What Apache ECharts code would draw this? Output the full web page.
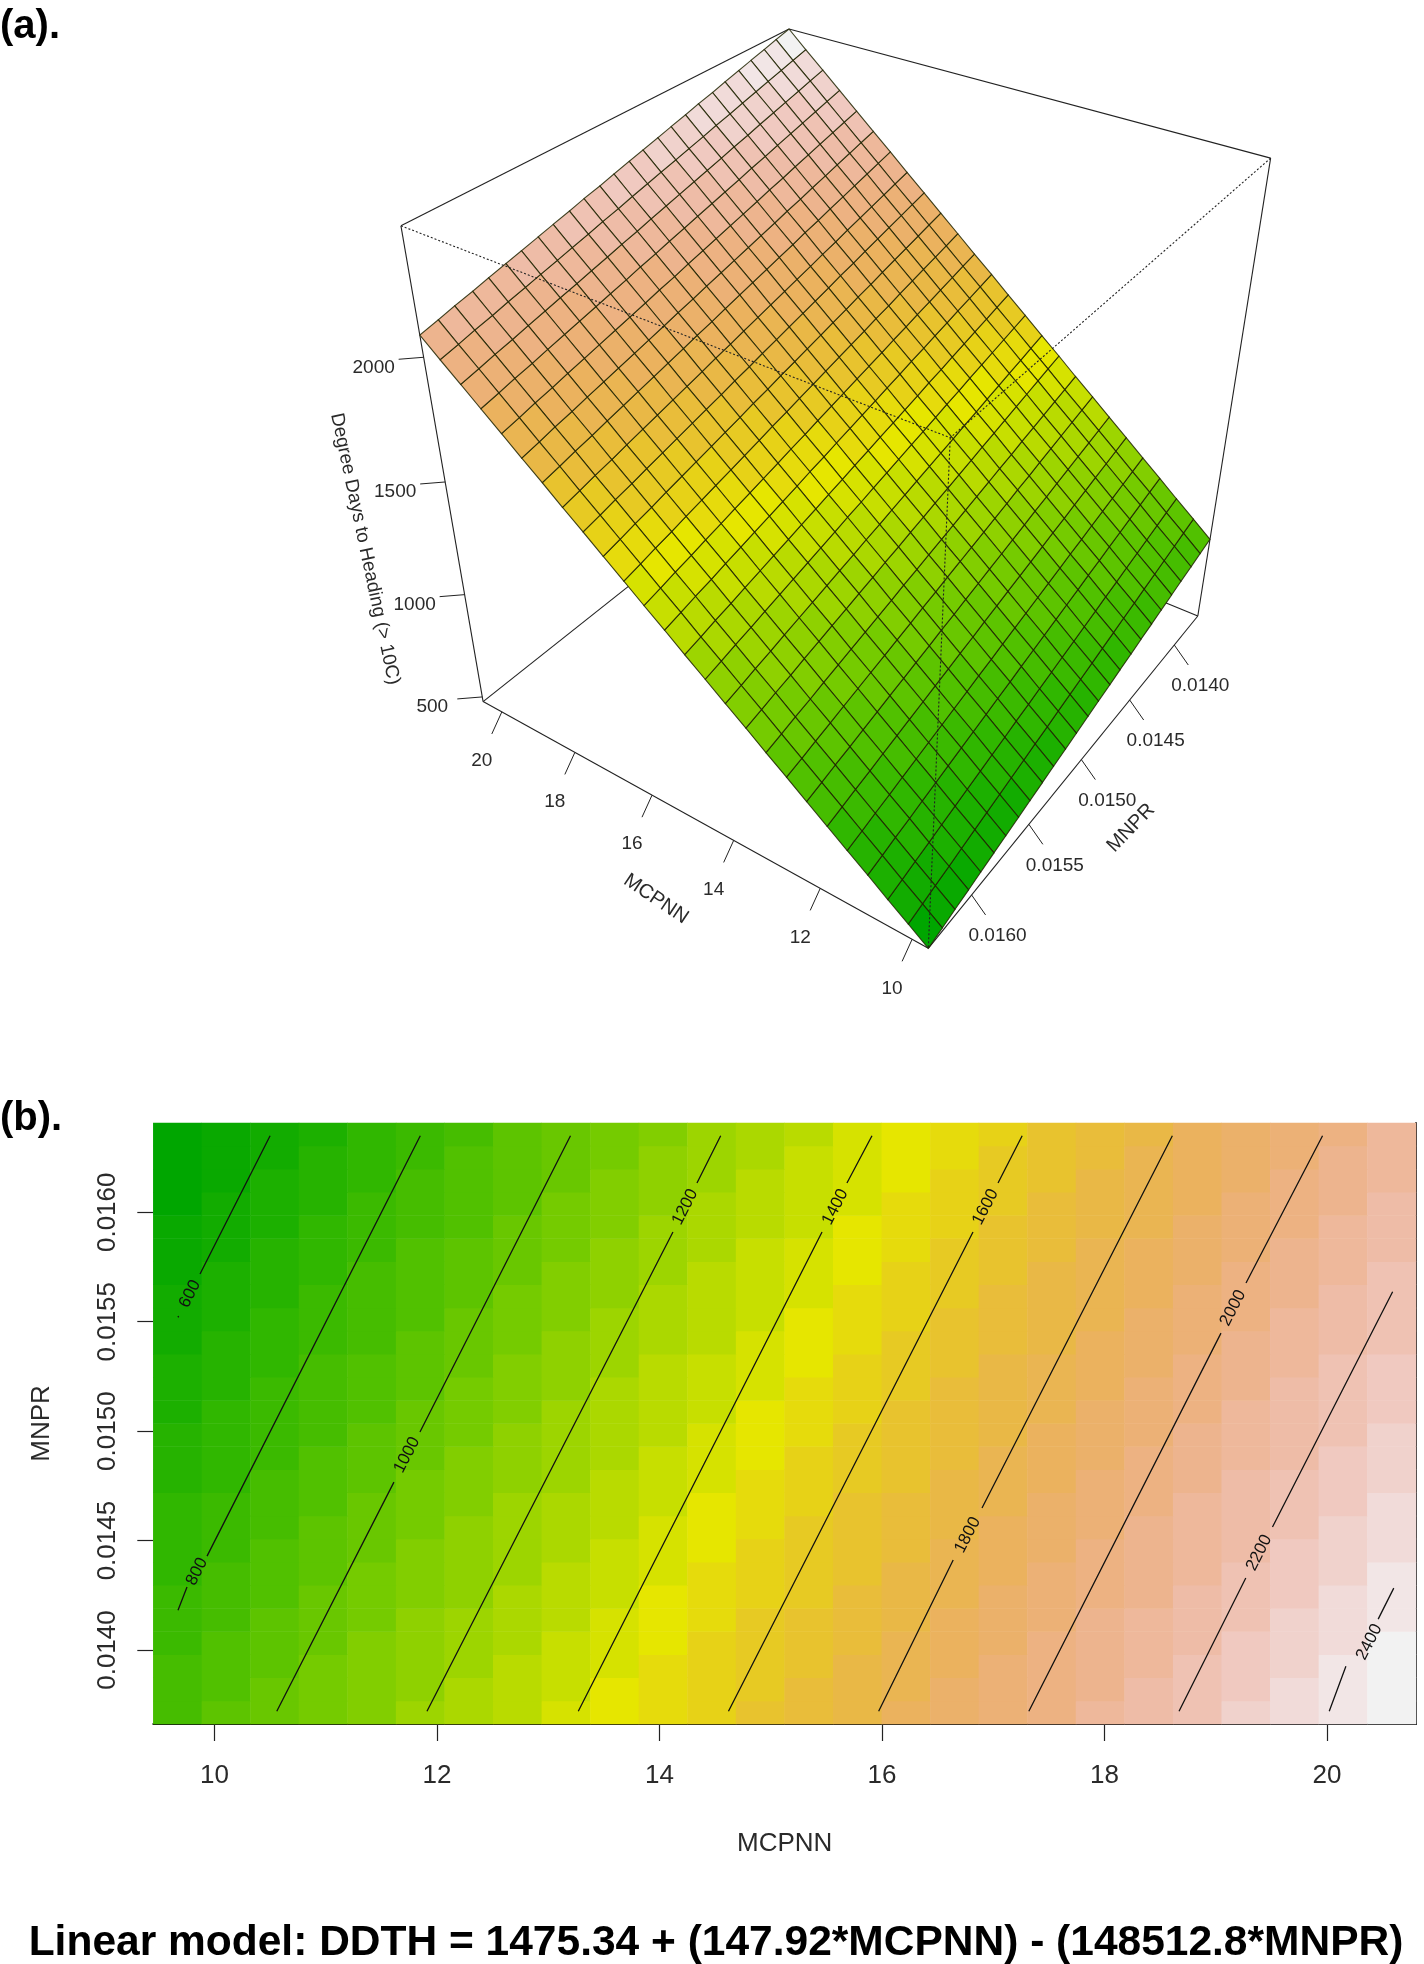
<!DOCTYPE html>
<html>
<head>
<meta charset="utf-8">
<style>html,body{margin:0;padding:0;background:#fff}#c{width:1424px;height:1964px}</style>
<script src="https://cdn.jsdelivr.net/npm/echarts@6/dist/echarts.min.js"></script>
</head>
<body>
<div id="c"></div>
<script>
// ---------- data ----------
const mcpnnValues = [9.66,10.09,10.53,10.96,11.40,11.83,12.27,12.70,13.14,13.57,14.01,14.44,14.88,15.31,15.75,16.18,16.62,17.05,17.49,17.92,18.36,18.79,19.23,19.66,20.10,20.53];
const mnprValues = [0.01372,0.01383,0.01393,0.01404,0.01414,0.01425,0.01435,0.01446,0.01456,0.01467,0.01477,0.01488,0.01498,0.01509,0.01519,0.01530,0.01540,0.01551,0.01561,0.01572,0.01582,0.01593,0.01603,0.01614,0.01624,0.01635];
// one row per MNPR value (low to high), one column per MCPNN value
const ddth = [
[867,931,995,1060,1124,1188,1253,1317,1381,1446,1510,1574,1638,1703,1767,1831,1896,1960,2024,2089,2153,2217,2282,2346,2410,2475],
[851,915,979,1044,1108,1172,1237,1301,1365,1430,1494,1558,1622,1687,1751,1815,1880,1944,2008,2073,2137,2201,2266,2330,2394,2459],
[836,900,964,1029,1093,1157,1222,1286,1350,1415,1479,1543,1607,1672,1736,1800,1865,1929,1993,2058,2122,2186,2251,2315,2379,2444],
[820,884,948,1013,1077,1141,1206,1270,1334,1399,1463,1527,1591,1656,1720,1784,1849,1913,1977,2042,2106,2170,2235,2299,2363,2428],
[805,869,933,998,1062,1126,1191,1255,1319,1384,1448,1512,1576,1641,1705,1769,1834,1898,1962,2027,2091,2155,2220,2284,2348,2413],
[789,853,917,982,1046,1110,1175,1239,1303,1368,1432,1496,1560,1625,1689,1753,1818,1882,1946,2011,2075,2139,2204,2268,2332,2397],
[773,837,901,966,1030,1094,1159,1223,1287,1352,1416,1480,1544,1609,1673,1737,1802,1866,1930,1995,2059,2123,2188,2252,2316,2381],
[758,822,886,951,1015,1079,1144,1208,1272,1337,1401,1465,1529,1594,1658,1722,1787,1851,1915,1980,2044,2108,2173,2237,2301,2366],
[742,806,870,935,999,1063,1128,1192,1256,1321,1385,1449,1513,1578,1642,1706,1771,1835,1899,1964,2028,2092,2157,2221,2285,2350],
[726,790,854,919,983,1047,1112,1176,1240,1305,1369,1433,1497,1562,1626,1690,1755,1819,1883,1948,2012,2076,2141,2205,2269,2334],
[711,775,839,904,968,1032,1097,1161,1225,1290,1354,1418,1482,1547,1611,1675,1740,1804,1868,1933,1997,2061,2126,2190,2254,2319],
[695,759,823,888,952,1016,1081,1145,1209,1274,1338,1402,1466,1531,1595,1659,1724,1788,1852,1917,1981,2045,2110,2174,2238,2303],
[680,744,808,873,937,1001,1066,1130,1194,1259,1323,1387,1451,1516,1580,1644,1709,1773,1837,1902,1966,2030,2095,2159,2223,2288],
[664,728,792,857,921,985,1050,1114,1178,1243,1307,1371,1435,1500,1564,1628,1693,1757,1821,1886,1950,2014,2079,2143,2207,2272],
[648,712,776,841,905,969,1034,1098,1162,1227,1291,1355,1419,1484,1548,1612,1677,1741,1805,1870,1934,1998,2063,2127,2191,2256],
[633,697,761,826,890,954,1019,1083,1147,1212,1276,1340,1404,1469,1533,1597,1662,1726,1790,1855,1919,1983,2048,2112,2176,2241],
[617,681,745,810,874,938,1003,1067,1131,1196,1260,1324,1388,1453,1517,1581,1646,1710,1774,1839,1903,1967,2032,2096,2160,2225],
[601,665,729,794,858,922,987,1051,1115,1180,1244,1308,1372,1437,1501,1565,1630,1694,1758,1823,1887,1951,2016,2080,2144,2209],
[586,650,714,779,843,907,972,1036,1100,1165,1229,1293,1357,1422,1486,1550,1615,1679,1743,1808,1872,1936,2001,2065,2129,2194],
[570,634,698,763,827,891,956,1020,1084,1149,1213,1277,1341,1406,1470,1534,1599,1663,1727,1792,1856,1920,1985,2049,2113,2178],
[555,619,683,748,812,876,941,1005,1069,1134,1198,1262,1326,1391,1455,1519,1584,1648,1712,1777,1841,1905,1970,2034,2098,2163],
[539,603,667,732,796,860,925,989,1053,1118,1182,1246,1310,1375,1439,1503,1568,1632,1696,1761,1825,1889,1954,2018,2082,2147],
[523,587,651,716,780,844,909,973,1037,1102,1166,1230,1294,1359,1423,1487,1552,1616,1680,1745,1809,1873,1938,2002,2066,2131],
[508,572,636,701,765,829,894,958,1022,1087,1151,1215,1279,1344,1408,1472,1537,1601,1665,1730,1794,1858,1923,1987,2051,2116],
[492,556,620,685,749,813,878,942,1006,1071,1135,1199,1263,1328,1392,1456,1521,1585,1649,1714,1778,1842,1907,1971,2035,2100],
[476,540,604,669,733,797,862,926,990,1055,1119,1183,1247,1312,1376,1440,1505,1569,1633,1698,1762,1826,1891,1955,2019,2084]
];
const mcpnnTicks = [10,12,14,16,18,20];
const mnprTicks = [0.014,0.0145,0.015,0.0155,0.016];
const mnprTickLabels = ['0.0140','0.0145','0.0150','0.0155','0.0160'];
const ddthTicks = [500,1000,1500,2000];

const contourLevels = [600,800,1000,1200,1400,1600,1800,2000,2200,2400];
// each contour: runs of [MCPNN, MNPR] on either side of its label
const contourRuns = [
 [[[10.50,0.01635],[9.87,0.015718]],[[9.672,0.015526],[9.678,0.01552]]],
 [[[11.85,0.01635],[9.933,0.014429]],[[9.753,0.014288],[9.672,0.014182]]],
 [[[13.20,0.01635],[11.847,0.014996]],[[11.613,0.014767],[10.56,0.01372]]],
 [[[14.55,0.01635],[14.337,0.016134]],[[14.121,0.01591],[11.91,0.01372]]],
 [[[15.91,0.01635],[15.685,0.016134]],[[15.461,0.01591],[13.27,0.01372]]],
 [[[17.26,0.01635],[17.043,0.016134]],[[16.818,0.01591],[14.62,0.01372]]],
 [[[18.61,0.01635],[16.899,0.014649]],[[16.64,0.014411],[15.97,0.01372]]],
 [[[19.96,0.01635],[19.272,0.015677]],[[19.047,0.015448],[17.32,0.01372]]],
 [[[20.59,0.015637],[19.51,0.014562]],[[19.27,0.014329],[18.67,0.01372]]],
 [[[20.60,0.014283],[20.46,0.014141]],[[20.17,0.013926],[20.02,0.01372]]]
];
const contourLabelAt = [[9.78,0.015627],[9.843,0.014358],[11.73,0.014891],[14.23,0.016024],[15.58,0.016024],[16.93,0.016024],[16.77,0.014525],[19.155,0.015563],[19.39,0.014444],[20.38,0.014036]];

// ---------- styles / layout ----------
const FONT = '"Liberation Sans", Arial, sans-serif';
const INK = '#2a2a2a';
const panelB = {left:153.3, top:1123, width:1262.7, height:601};
const axisB = {xMin:9.45, xMax:20.80, yMin:0.013662, yMax:0.016408};

// terrain.colors(40) ramp
function hsv(h,s,v){const c=v*s,x=c*(1-Math.abs((h/60)%2-1)),m=v-c;let r,g,b;
 if(h<60){r=c;g=x;b=0}else if(h<120){r=x;g=c;b=0}else{r=0;g=c;b=x}
 const f=a=>Math.round((a+m)*255);return 'rgb('+f(r)+','+f(g)+','+f(b)+')';}
function terrain(n){const k=Math.floor(n/2),out=[];
 for(let i=0;i<k;i++){const t=k>1?i/(k-1):0;out.push(hsv(120-60*t,1,0.65+0.25*t));}
 const m=n-k;for(let i=1;i<=m;i++){const t=i/m;out.push(hsv(60-60*t,1-t,0.9+0.05*t));}
 return out;}
const nColors=40, ramp=terrain(nColors);
const zMin=Math.min(...ddth.map(r=>Math.min(...r))), zMax=Math.max(...ddth.map(r=>Math.max(...r)));
const colorOf=z=>ramp[Math.max(0,Math.min(nColors-1,Math.floor((z-zMin)/(zMax-zMin)*nColors)))];
const pieces=ramp.map((c,i)=>({min:zMin+(zMax-zMin)*i/nColors,max:zMin+(zMax-zMin)*(i+1)/nColors,color:c}));

// ---------- perspective camera fitted to landmarks of the drawing ----------
const cube={x0:mcpnnValues[0],x1:mcpnnValues[25],y0:mnprValues[0],y1:mnprValues[25],z0:zMin,z1:zMax};
const norm=(x,y,z)=>[(x-cube.x0)/(cube.x1-cube.x0),(y-cube.y0)/(cube.y1-cube.y0),(z-cube.z0)/(cube.z1-cube.z0)];
const landmarks=[ // unit cube position, page position, weight
 [[1,1,0],[481.5,699.5],1],[[0,1,0],[928.3,948.3],30],[[0,0,0],[1198,615],1],[[1,0,0],[795,452],0.1],
 [[1,1,1],[400.7,226],1],[[0,1,1],[948,435],1],[[0,0,1],[1271,158],1],[[1,0,1],[789,29],30],
 [[1,1,(2084-476)/1999],[419.8,335],30],[[0,0,(867-476)/1999],[1210,539.3],30]];
function fitCamera(){
 const A=[],B=[];
 landmarks.forEach(([u,p,w])=>{const [a,b,c]=u,X=p[0]/1000,Y=p[1]/1000;
  A.push([a,b,c,1,0,0,0,0,-X*a,-X*b,-X*c].map(v=>v*w));B.push(X*w);
  A.push([0,0,0,0,a,b,c,1,-Y*a,-Y*b,-Y*c].map(v=>v*w));B.push(Y*w);});
 const n=11,M=[];
 for(let i=0;i<n;i++){M.push([]);for(let j=0;j<n;j++){let s=0;A.forEach(r=>s+=r[i]*r[j]);M[i].push(s+(i===j?1e-10:0));}
  let s=0;A.forEach((r,k)=>s+=r[i]*B[k]);M[i].push(s);}
 for(let i=0;i<n;i++){let p=i;for(let r=i+1;r<n;r++)if(Math.abs(M[r][i])>Math.abs(M[p][i]))p=r;
  [M[i],M[p]]=[M[p],M[i]];
  for(let r=0;r<n;r++)if(r!==i){const f=M[r][i]/M[i][i];for(let c=i;c<=n;c++)M[r][c]-=f*M[i][c];}}
 return M.map((r,i)=>r[n]/r[i]);
}
const cam=fitCamera();
function proj(x,y,z){const [a,b,c]=norm(x,y,z);const w=cam[8]*a+cam[9]*b+cam[10]*c+1;
 return [(cam[0]*a+cam[1]*b+cam[2]*c+cam[3])/w*1000,(cam[4]*a+cam[5]*b+cam[6]*c+cam[7])/w*1000];}

const {x0,x1,y0,y1,z0,z1}=cube;
const backEdges=[[[x1,y1,z1],[x1,y0,z1]],[[x1,y0,z1],[x0,y0,z1]],[[x1,y1,z1],[x1,y1,z0]],[[x0,y0,z1],[x0,y0,z0]],
 [[x1,y1,z0],[x0,y1,z0]],[[x0,y1,z0],[x0,y0,z0]],[[x1,y1,z0],[x1,y0,z0]],[[x0,y0,z0],[x1,y0,z0]]];
const frontEdges=[[[x1,y1,z1],[x0,y1,z1]],[[x0,y0,z1],[x0,y1,z1]],[[x0,y1,z1],[x0,y1,z0]]];

function edgeSeries(edges,dash,z){return {type:'custom',coordinateSystem:'none',silent:true,z,animation:false,
 data:edges.map((e,i)=>i),
 renderItem:(p,api)=>{const e=edges[api.value(0)],a=proj(...e[0]),b=proj(...e[1]);
  return {type:'line',shape:{x1:a[0],y1:a[1],x2:b[0],y2:b[1]},style:{stroke:'#222',lineWidth:1.1,lineDash:dash}};}};}

const facets=[];for(let j=0;j<25;j++)for(let i=0;i<25;i++)facets.push([i,j]);
const surfaceSeries={type:'custom',coordinateSystem:'none',silent:true,z:3,animation:false,data:facets,
 renderItem:(p,api)=>{const i=api.value(0),j=api.value(1);
  const pts=[[i,j],[i+1,j],[i+1,j+1],[i,j+1]].map(([a,b])=>proj(mcpnnValues[a],mnprValues[b],ddth[b][a]));
  const m=(ddth[j][i]+ddth[j][i+1]+ddth[j+1][i]+ddth[j+1][i+1])/4;
  return {type:'polygon',shape:{points:pts},style:{fill:colorOf(m),stroke:'rgba(30,35,0,0.85)',lineWidth:1.1}};}};

function tickSeries(values,labels,basePoint,tick,labelOff){return {type:'custom',coordinateSystem:'none',silent:true,z:5,animation:false,
 data:values.map((v,i)=>i),
 renderItem:(p,api)=>{const k=api.value(0),b=basePoint(values[k]);
  return {type:'group',children:[
   {type:'line',shape:{x1:b[0],y1:b[1],x2:b[0]+tick[0],y2:b[1]+tick[1]},style:{stroke:'#222',lineWidth:1}},
   {type:'text',x:b[0]+labelOff[0],y:b[1]+labelOff[1],style:{text:labels[k],fontFamily:FONT,fontSize:19,fill:INK,align:'center',verticalAlign:'middle'}}]};}};}

const persTitles=[
 {text:'Degree Days to Heading (> 10C)',pos:[365,549],rot:-78},
 {text:'MCPNN',pos:[656,899],rot:-34},
 {text:'MNPR',pos:[1131,828],rot:46}];
const persTitleSeries={type:'custom',coordinateSystem:'none',silent:true,z:5,animation:false,data:persTitles.map((t,i)=>i),
 renderItem:(p,api)=>{const t=persTitles[api.value(0)];
  return {type:'text',x:t.pos[0],y:t.pos[1],rotation:t.rot*Math.PI/180,style:{text:t.text,fontFamily:FONT,fontSize:t.rot===-78?19:20,fill:INK,align:'center',verticalAlign:'middle'}};}};

// ---------- 2-D panel series ----------
const heatData=[];ddth.forEach((r,j)=>r.forEach((v,i)=>heatData.push([i,j,v])));
const contourSeries=contourLevels.map((lev,k)=>{
 const d=[];contourRuns[k].forEach((run,i)=>{if(i)d.push(['-','-']);run.forEach(pt=>d.push(pt));});
 return {type:'line',name:String(lev),xAxisIndex:1,yAxisIndex:1,data:d,showSymbol:false,symbol:'none',connectNulls:false,silent:true,animation:false,z:4,
  lineStyle:{color:'#111',width:1.3}};});
const contourLabelSeries={type:'custom',xAxisIndex:1,yAxisIndex:1,coordinateSystem:'cartesian2d',silent:true,z:5,animation:false,
 data:contourLabelAt.map((p,i)=>[p[0],p[1],contourLevels[i]]),encode:{x:0,y:1},
 renderItem:(p,api)=>{const c=api.coord([api.value(0),api.value(1)]);
  return {type:'text',x:c[0],y:c[1],rotation:63*Math.PI/180,style:{text:String(api.value(2)),fontFamily:FONT,fontSize:17,fill:'#111',align:'center',verticalAlign:'middle'}};}};

const option={
 backgroundColor:'#fff',animation:false,
 title:[
  {text:'(a).',left:-5,top:2,textStyle:{fontFamily:FONT,fontWeight:'bold',fontSize:40,color:'#000'}},
  {text:'(b).',left:-5,top:1094,textStyle:{fontFamily:FONT,fontWeight:'bold',fontSize:40,color:'#000'}},
  {text:'Linear model: DDTH = 1475.34 + (147.92*MCPNN) - (148512.8*MNPR)',left:711,top:1917,textAlign:'center',textStyle:{fontFamily:FONT,fontWeight:'bold',fontSize:42.5,color:'#000'}}
 ],
 visualMap:{type:'piecewise',show:false,dimension:2,seriesIndex:0,pieces},
 grid:[Object.assign({containLabel:false},panelB),Object.assign({containLabel:false},panelB)],
 xAxis:[
  {type:'category',gridIndex:0,data:mcpnnValues.map(String),show:false},
  {type:'value',gridIndex:1,min:axisB.xMin,max:axisB.xMax,name:'MCPNN',nameLocation:'middle',nameGap:107,
   nameTextStyle:{fontFamily:FONT,fontSize:26,color:INK},splitLine:{show:false},
   axisLine:{show:true,onZero:false,lineStyle:{color:'#111',width:2}},
   axisTick:{show:true,length:17,customValues:mcpnnTicks,lineStyle:{color:'#222',width:1.2}},
   axisLabel:{customValues:mcpnnTicks,margin:39,fontFamily:FONT,fontSize:26,color:INK,showMinLabel:true,showMaxLabel:true,formatter:v=>String(v)}}
 ],
 yAxis:[
  {type:'category',gridIndex:0,data:mnprValues.map(String),show:false},
  {type:'value',gridIndex:1,min:axisB.yMin,max:axisB.yMax,name:'MNPR',nameLocation:'middle',nameGap:98,nameRotate:90,
   nameTextStyle:{fontFamily:FONT,fontSize:26,color:INK},splitLine:{show:false},
   axisLine:{show:false},
   axisTick:{show:true,length:16,customValues:mnprTicks,lineStyle:{color:'#222',width:1.2}},
   axisLabel:{customValues:mnprTicks,rotate:90,margin:32,fontFamily:FONT,fontSize:26,color:INK,
    formatter:v=>mnprTickLabels[mnprTicks.findIndex(t=>Math.abs(t-v)<1e-7)]||''}},
  {type:'value',gridIndex:1,position:'right',min:axisB.yMin,max:axisB.yMax,splitLine:{show:false},
   axisLine:{show:true,onZero:false,lineStyle:{color:'#222',width:2}},axisTick:{show:false},axisLabel:{show:false}}
 ],
 series:[
  {type:'heatmap',xAxisIndex:0,yAxisIndex:0,data:heatData,silent:true,animation:false,progressive:0,z:1,itemStyle:{borderWidth:0}},
  edgeSeries(backEdges,null,2),
  surfaceSeries,
  edgeSeries(frontEdges,[2,2],4),
  tickSeries(mcpnnTicks,mcpnnTicks.map(String),v=>proj(v,y1,z0),[-10,22],[-20,49]),
  tickSeries(mnprTicks,mnprTickLabels,v=>proj(x0,v,z0),[14,20],[26,41]),
  tickSeries(ddthTicks,ddthTicks.map(String),v=>proj(x1,y1,v),[-25,2],[-50,10]),
  persTitleSeries,
  ...contourSeries,
  contourLabelSeries
 ]
};
echarts.init(document.getElementById('c'),null,{renderer:'canvas'}).setOption(option);
</script>
</body>
</html>
